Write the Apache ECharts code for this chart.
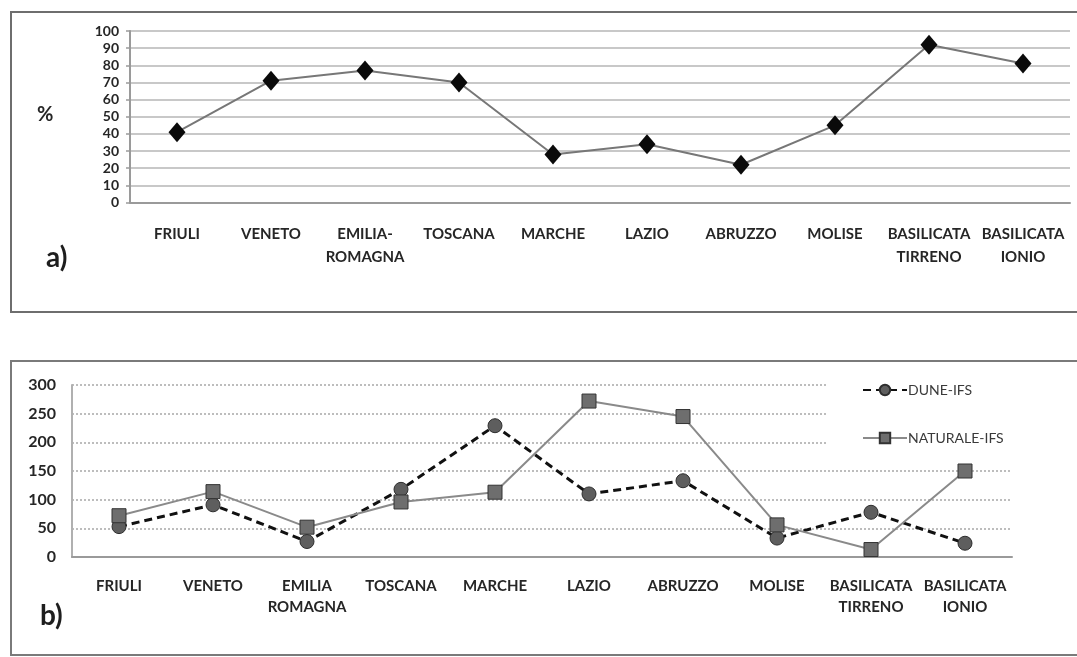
<!DOCTYPE html>
<html>
<head>
<meta charset="utf-8">
<script src="https://cdn.jsdelivr.net/npm/echarts@6/dist/echarts.min.js"></script>
<style>
  html, body { margin: 0; padding: 0; background: #fff; }
  #chart { width: 1077px; height: 657px; }
</style>
</head>
<body>
<div id="chart"></div>
<script>
// Panel a) – percentage per region
const regionsA = ['FRIULI', 'VENETO', 'EMILIA-\nROMAGNA', 'TOSCANA', 'MARCHE', 'LAZIO',
  'ABRUZZO', 'MOLISE', 'BASILICATA\nTIRRENO', 'BASILICATA\nIONIO'];
const percentA = [41, 71, 77, 70, 28, 34, 22, 45, 92, 81];
const ticksA = { min: 0, max: 100, interval: 10 };

// Panel b) – two indices per region
const regionsB = ['FRIULI', 'VENETO', 'EMILIA\nROMAGNA', 'TOSCANA', 'MARCHE', 'LAZIO',
  'ABRUZZO', 'MOLISE', 'BASILICATA\nTIRRENO', 'BASILICATA\nIONIO'];
const duneIfs = [53, 91, 27, 118, 229, 110, 133, 33, 78, 24];
const naturaleIfs = [72, 114, 52, 96, 113, 272, 245, 56, 13, 150];
const ticksB = { min: 0, max: 300, interval: 50 };

const FONT = 'Lato, "DejaVu Sans", sans-serif';
const chart = echarts.init(document.getElementById('chart'), null, { renderer: 'canvas' });

const labelStyle = { fontFamily: FONT, fontWeight: 'bold', color: '#262626' };

chart.setOption({
  backgroundColor: '#ffffff',
  animation: false,
  graphic: [
    { type: 'rect', shape: { x: 11, y: 12, width: 1070, height: 300 },
      style: { fill: 'none', stroke: '#6e6e6e', lineWidth: 2 }, z: -1 },
    { type: 'rect', shape: { x: 11, y: 361, width: 1070, height: 294 },
      style: { fill: 'none', stroke: '#7a7a7a', lineWidth: 2 }, z: -1 },
    { type: 'text', left: 37, top: 105,
      style: { text: '%', font: 'bold 20px ' + FONT, fill: '#262626' } },
    { type: 'text', left: 46, top: 244,
      style: { text: 'a)', font: 'bold 28px ' + FONT, fill: '#1e1e1e' } },
    { type: 'text', left: 40, top: 602,
      style: { text: 'b)', font: 'bold 28px ' + FONT, fill: '#1e1e1e' } }
  ],
  legend: {
    data: ['DUNE-IFS', 'NATURALE-IFS'],
    orient: 'vertical',
    left: 826,
    top: 379,
    padding: [4, 40, 8, 36],
    itemGap: 34,
    itemWidth: 44,
    itemHeight: 13,
    backgroundColor: '#ffffff',
    textStyle: { fontFamily: FONT, fontSize: 14, color: '#3a3a3a', padding: [0, 0, 0, -4] }
  },
  grid: [
    { left: 130, top: 31, width: 940, height: 171.5, containLabel: false },
    { left: 72, top: 385, width: 940, height: 172, containLabel: false }
  ],
  xAxis: [
    {
      gridIndex: 0, type: 'category', data: regionsA, boundaryGap: true,
      axisLine: { lineStyle: { color: '#9a9a9a', width: 2 } },
      axisTick: { show: false },
      axisLabel: Object.assign({ fontSize: 15, margin: 20, lineHeight: 23, interval: 0 }, labelStyle)
    },
    {
      gridIndex: 1, type: 'category', data: regionsB, boundaryGap: true,
      axisLine: { lineStyle: { color: '#9a9a9a', width: 2 } },
      axisTick: { show: false },
      axisLabel: Object.assign({ fontSize: 15, margin: 19, lineHeight: 21, interval: 0 }, labelStyle)
    }
  ],
  yAxis: [
    {
      gridIndex: 0, type: 'value', min: ticksA.min, max: ticksA.max, interval: ticksA.interval,
      axisLine: { show: true, lineStyle: { color: '#9a9a9a', width: 2 } },
      axisTick: { show: true, length: 4, lineStyle: { color: '#9a9a9a', width: 1.5 } },
      splitLine: { lineStyle: { color: '#c8c8c8', width: 2 } },
      axisLabel: Object.assign({ fontSize: 14, margin: 11 }, labelStyle)
    },
    {
      gridIndex: 1, type: 'value', min: ticksB.min, max: ticksB.max, interval: ticksB.interval,
      axisLine: { show: true, lineStyle: { color: '#b0b0b0', width: 2 } },
      axisTick: { show: false },
      splitLine: { lineStyle: { color: '#a8a8a8', width: 1.5, type: [2, 2] } },
      axisLabel: Object.assign({ fontSize: 16, margin: 16 }, labelStyle)
    }
  ],
  series: [
    {
      name: '%', type: 'line', xAxisIndex: 0, yAxisIndex: 0, data: percentA,
      symbol: 'diamond', symbolSize: [17, 20],
      lineStyle: { color: '#777777', width: 2 },
      itemStyle: { color: '#0a0a0a' }
    },
    {
      name: 'DUNE-IFS', type: 'line', xAxisIndex: 1, yAxisIndex: 1, data: duneIfs,
      symbol: 'circle', symbolSize: 14,
      lineStyle: { color: '#111111', width: 3, type: [8, 5] },
      itemStyle: { color: '#5e5e5e', borderColor: '#2e2e2e', borderWidth: 1 }
    },
    {
      name: 'NATURALE-IFS', type: 'line', xAxisIndex: 1, yAxisIndex: 1, data: naturaleIfs,
      symbol: 'rect', symbolSize: 14,
      lineStyle: { color: '#8a8a8a', width: 2 },
      itemStyle: { color: '#6e6e6e', borderColor: '#333333', borderWidth: 1 }
    }
  ]
});
</script>
</body>
</html>
